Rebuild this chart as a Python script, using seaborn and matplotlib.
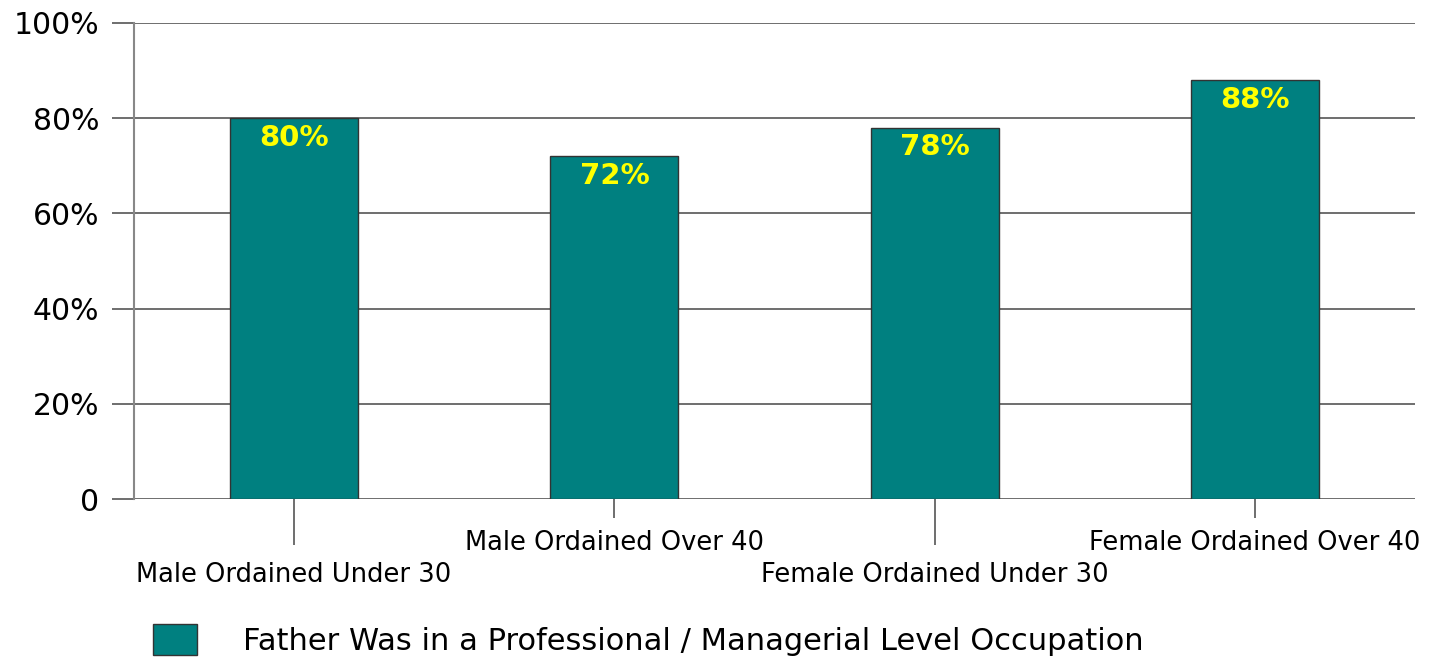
import pandas as pd
import matplotlib
matplotlib.use("Agg")
import matplotlib.pyplot as plt
import seaborn as sns
from matplotlib.patches import Patch

# data
groups = ["Male Ordained Under 30", "Male Ordained Over 40",
          "Female Ordained Under 30", "Female Ordained Over 40"]
pct = [80, 72, 78, 88]
bar_labels = ["80%", "72%", "78%", "88%"]
y_ticks = [0, 20, 40, 60, 80, 100]
y_tick_labels = ["0", "20%", "40%", "60%", "80%", "100%"]
series_name = "Father Was in a Professional / Managerial Level Occupation"

df = pd.DataFrame({"group": groups, "pct": pct})

sns.set_style("white")
plt.rcParams["font.family"] = ["DejaVu Sans"]

teal = "#008080"
grid_col = "#555555"

fig = plt.figure(figsize=(14.5, 6.6), dpi=100)
ax = fig.add_axes([0.0924, 0.2439, 0.8835, 0.7213])

sns.barplot(data=df, x="group", y="pct", color=teal, width=0.4,
            edgecolor="#333333", linewidth=1, saturation=1, ax=ax, zorder=3)

ax.set_xlim(-0.5, 3.5)
ax.set_ylim(0, 100)
ax.set_yticks(y_ticks)
ax.set_yticklabels(y_tick_labels, fontsize=21.5, color="black")
ax.yaxis.grid(True, color=grid_col, linewidth=1.2, zorder=0)
ax.tick_params(axis="y", length=16, width=1.2, color=grid_col, pad=9, direction="out", left=True)
ax.set_xlabel("")
ax.set_ylabel("")

for s in ["top", "right", "bottom"]:
    ax.spines[s].set_visible(False)
ax.spines["left"].set_color("#888888")
ax.spines["left"].set_linewidth(1.5)

# staggered category labels with alternating tick lengths
ax.set_xticks(range(len(groups)))
ax.set_xticklabels([])
ax.tick_params(axis="x", bottom=True, width=1.2, color=grid_col, direction="out")
for i, t in enumerate(ax.xaxis.get_major_ticks()):
    t.tick1line.set_markersize(33 if i % 2 == 0 else 14)
for i, g in enumerate(groups):
    off = -45 if i % 2 == 0 else -22
    ax.annotate(g, xy=(i, 0), xycoords=("data", "axes fraction"),
                xytext=(0, off), textcoords="offset points",
                ha="center", va="top", fontsize=18.5, color="black")

# value labels inside bar tops
for i, (v, lab) in enumerate(zip(pct, bar_labels)):
    ax.annotate(lab, xy=(i, v), xytext=(0, -4), textcoords="offset points",
                ha="center", va="top", fontsize=21, fontweight="bold",
                color="#FFFF00", zorder=5)

handle = Patch(facecolor=teal, edgecolor="#333333", linewidth=1)
fig.legend([handle], [series_name], loc="lower left",
           bbox_to_anchor=(0.097, -0.012), frameon=False, fontsize=22,
           labelcolor="black", handlelength=1.45, handleheight=1.2,
           handletextpad=1.5, borderaxespad=0)

fig.savefig("out.png", dpi=100)
